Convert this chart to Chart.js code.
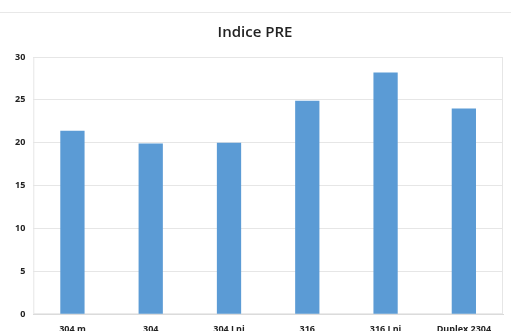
<!DOCTYPE html>
<html>
<head>
<meta charset="utf-8">
<script src="https://cdn.jsdelivr.net/npm/chart.js@4"></script>
<style>
  html, body { margin: 0; padding: 0; background: #fff; overflow: hidden; }
  #wrap { position: relative; width: 511px; height: 337px; }
  #topline { position: absolute; left: 0; top: 12px; width: 511px; border-top: 1px solid #e8e8e8; }
</style>
</head>
<body>
<div id="wrap">
  <div id="topline"></div>
  <canvas id="preChart" width="511" height="337"></canvas>
</div>
<script>
const categories = ['304 m', '304', '304 Lni', '316', '316 Lni', 'Duplex 2304'];
const preValues = [21.4, 19.9, 20.0, 24.9, 28.2, 24.0];
const yTicks = [0, 5, 10, 15, 20, 25, 30];

const preChart = document.querySelector('#preChart');

const plotBox = {
  id: 'plotBox',
  beforeDatasetsDraw(chart) {
    const { ctx, chartArea } = chart;
    ctx.save();
    ctx.strokeStyle = '#e6e6e6';
    ctx.lineWidth = 1;
    ctx.strokeRect(chartArea.left + 0.5, chartArea.top + 0.5, chartArea.width - 1, chartArea.height - 1);
    ctx.restore();
  }
};

new Chart(preChart, {
  type: 'bar',
  data: {
    labels: categories,
    datasets: [
      {
        label: 'Indice PRE',
        data: preValues,
        backgroundColor: '#5b9bd5',
        barPercentage: 0.31,
        categoryPercentage: 1
      }
    ]
  },
  options: {
    responsive: false,
    animation: false,
    devicePixelRatio: 1,
    layout: {
      padding: { left: 7, right: 8, top: 0, bottom: 0 }
    },
    plugins: {
      legend: { display: false },
      tooltip: { enabled: false },
      title: {
        display: true,
        text: 'Indice PRE',
        color: '#222',
        font: { family: "'Open Sans', sans-serif", size: 15, weight: '600' },
        padding: { top: 24, bottom: 15 }
      }
    },
    scales: {
      x: {
        grid: { display: false },
        border: { display: true, color: '#d9d9d9' },
        ticks: {
          color: '#222',
          padding: 2,
          maxRotation: 0,
          autoSkip: false,
          font: { family: "'Open Sans', sans-serif", size: 9, weight: 'bold' }
        }
      },
      y: {
        min: 0,
        max: 30,
        afterBuildTicks(axis) {
          axis.ticks = yTicks.map(v => ({ value: v }));
        },
        grid: { color: '#e6e6e6', drawTicks: false },
        border: { display: false },
        ticks: {
          color: '#222',
          padding: 8,
          font: { family: "'Open Sans', sans-serif", size: 9, weight: 'bold' }
        }
      }
    }
  },
  plugins: [plotBox]
});
</script>
</body>
</html>
